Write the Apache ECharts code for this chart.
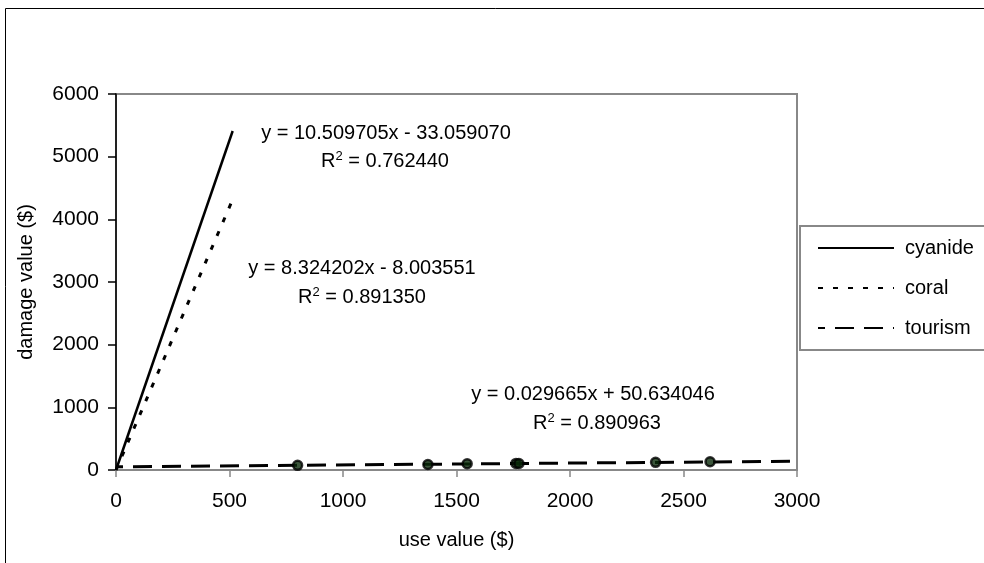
<!DOCTYPE html>
<html>
<head>
<meta charset="utf-8">
<script src="https://cdn.jsdelivr.net/npm/echarts@6/dist/echarts.min.js"></script>
<style>
  html, body { margin: 0; padding: 0; background: #fff; }
  #chart { width: 984px; height: 563px; }
</style>
</head>
<body>
<div id="chart"></div>
<script>
// ---- data ----
const seriesNames = ['cyanide', 'coral', 'tourism'];
const xTicks = [0, 500, 1000, 1500, 2000, 2500, 3000];
const yTicks = [0, 1000, 2000, 3000, 4000, 5000, 6000];

const cyanideTrendX = [0, 514];
const cyanideTrendY = [0, 5410];
const coralTrendX = [0, 512];
const coralTrendY = [0, 4300];
const tourismTrendX = [0, 3000];
const tourismTrendY = [51, 140];

const tourismUse = [800, 1374, 1547, 1762, 1775, 2377, 2617];
const tourismDamage = [74, 88, 100, 105, 104, 122, 131];

const equations = [
  { eq: 'y = 10.509705x - 33.059070', r2: '0.762440' },
  { eq: 'y = 8.324202x - 8.003551', r2: '0.891350' },
  { eq: 'y = 0.029665x + 50.634046', r2: '0.890963' }
];

const pairs = (xs, ys) => xs.map((x, i) => [x, ys[i]]);
const FONT = "'Liberation Sans', Arial, sans-serif";

const chart = echarts.init(document.getElementById('chart'), null, { renderer: 'canvas' });

const eqText = (e) => ({
  type: 'text',
  style: {
    text: e.eq,
    fontFamily: FONT, fontSize: 20, fill: '#000',
    textAlign: 'center', textVerticalAlign: 'middle'
  }
});
const r2Text = (e) => ({
  type: 'text',
  style: {
    text: 'R{sup|2} = ' + e.r2,
    fontFamily: FONT, fontSize: 20, fill: '#000',
    textAlign: 'center', textVerticalAlign: 'middle',
    rich: { sup: { fontFamily: FONT, fontSize: 13, verticalAlign: 'top', lineHeight: 22 } }
  }
});

const eqPos = [
  [386, 133, 385, 161],
  [362, 268, 362, 297],
  [593, 394, 597, 423]
];

const graphics = [
  { type: 'rect', shape: { x: 5.5, y: 8.5, width: 1100, height: 700 }, style: { fill: 'none', stroke: '#000', lineWidth: 1 }, silent: true, z: -1 }
];
equations.forEach((e, i) => {
  const a = eqText(e); a.x = eqPos[i][0]; a.y = eqPos[i][1];
  const b = r2Text(e); b.x = eqPos[i][2]; b.y = eqPos[i][3];
  graphics.push(a, b);
});

const option = {
  animation: false,
  textStyle: { fontFamily: FONT },
  grid: {
    left: 116, top: 94, right: 187, bottom: 93,
    show: true, borderColor: '#888', borderWidth: 2, backgroundColor: '#fff'
  },
  xAxis: {
    type: 'value', min: xTicks[0], max: xTicks[xTicks.length - 1], interval: 500,
    name: 'use value ($)', nameLocation: 'middle', nameGap: 60,
    nameTextStyle: { fontFamily: FONT, fontSize: 20, color: '#000' },
    axisLine: { show: true, lineStyle: { color: '#888', width: 2 } },
    axisTick: { show: true, inside: false, length: 7, lineStyle: { color: '#888', width: 1.5 } },
    axisLabel: { margin: 21, fontFamily: FONT, fontSize: 21, color: '#000', formatter: (v) => String(v) },
    splitLine: { show: false }
  },
  yAxis: {
    type: 'value', min: yTicks[0], max: yTicks[yTicks.length - 1], interval: 1000,
    name: 'damage value ($)', nameLocation: 'middle', nameGap: 80,
    nameTextStyle: { fontFamily: FONT, fontSize: 20, color: '#000' },
    axisLine: { show: true, lineStyle: { color: '#000', width: 1.5 } },
    axisTick: { show: true, inside: false, length: 8, lineStyle: { color: '#000', width: 1.5 } },
    axisLabel: { margin: 17, fontFamily: FONT, fontSize: 21, color: '#000', formatter: (v) => String(v) },
    splitLine: { show: false }
  },
  legend: {
    show: true, orient: 'vertical', left: 800, top: 226,
    data: seriesNames,
    itemWidth: 76, itemHeight: 14, itemGap: 20,
    padding: [12, 40, 12, 17],
    borderColor: '#888', borderWidth: 2, backgroundColor: '#fff',
    itemStyle: { opacity: 0 },
    textStyle: { fontFamily: FONT, fontSize: 20, color: '#000', padding: [0, 0, 0, 6] },
    selectedMode: false
  },
  series: [
    {
      name: seriesNames[0], type: 'line', data: pairs(cyanideTrendX, cyanideTrendY),
      symbol: 'none', clip: true,
      lineStyle: { color: '#000', width: 2.5, type: 'solid' },
      itemStyle: { color: '#000' }
    },
    {
      name: seriesNames[1], type: 'line', data: pairs(coralTrendX, coralTrendY),
      symbol: 'none', clip: true,
      lineStyle: { color: '#000', width: 3, type: [5, 10] },
      itemStyle: { color: '#000' }
    },
    {
      name: seriesNames[2], type: 'line', data: pairs(tourismTrendX, tourismTrendY),
      symbol: 'none', clip: true,
      lineStyle: { color: '#000', width: 3, type: [19, 10], dashOffset: 12 },
      itemStyle: { color: '#000' }
    },
    {
      name: 'tourism data', type: 'scatter', data: pairs(tourismUse, tourismDamage),
      symbol: 'circle', symbolSize: 9,
      itemStyle: { color: '#0a2a0a', borderColor: '#000', borderWidth: 2.5 },
      z: 3
    }
  ],
  graphic: graphics
};

chart.setOption(option);
</script>
</body>
</html>
